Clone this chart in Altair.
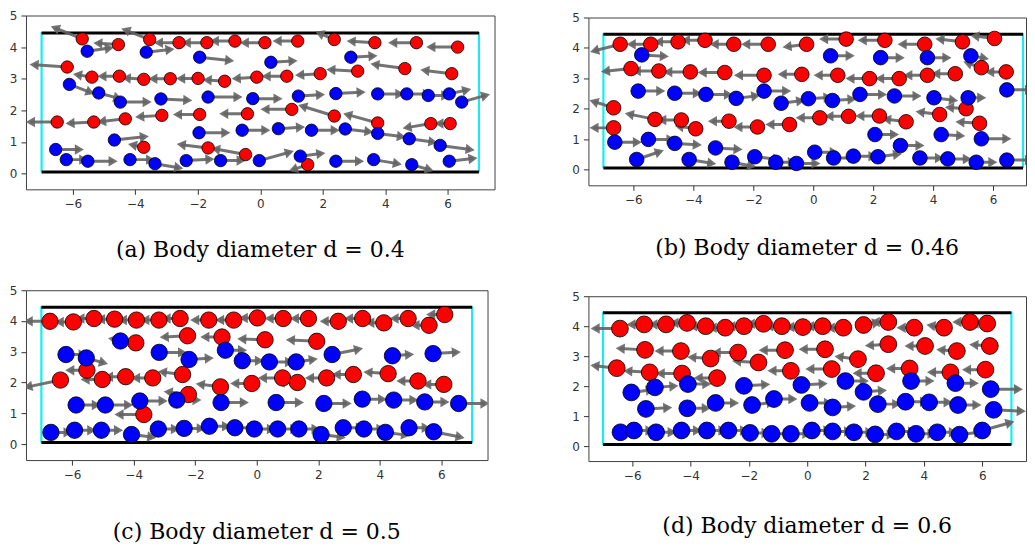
import math
import pandas as pd
import altair as alt

# ---------------- data (x, y, u, v) ----------------
X_TICKS = [-6, -4, -2, 0, 2, 4, 6]
Y_TICKS = [0, 1, 2, 3, 4, 5]
WALL_Y = [0.05, 4.45]
WALL_X = [-7.0, 7.0]
INLET_Y = [0.04, 4.48]

CAPTIONS = ["(a) Body diameter d = 0.4", "(b) Body diameter d = 0.46",
            "(c) Body diameter d = 0.5", "(d) Body diameter d = 0.6"]

A_RED = [(-5.70, 4.26, -1.0, 0.4), (-4.54, 4.08, -0.8, 0.05), (-3.54, 4.24, -0.9, 0.35),
         (-2.60, 4.14, -0.8, 0.0), (-1.71, 4.14, -0.8, 0.0), (-0.81, 4.19, -0.8, 0.0),
         (0.15, 4.14, -0.8, 0.0), (1.20, 4.19, -0.8, 0.0), (2.37, 4.24, -0.6, 0.25),
         (3.67, 4.14, -0.9, 0.05), (5.00, 4.14, -0.9, 0.0), (6.32, 4.00, -1.0, 0.0),
         (-6.18, 3.37, -1.2, 0.08), (-5.39, 3.05, -0.6, 0.1), (-4.51, 3.08, -0.7, 0.0),
         (-3.73, 2.98, -0.7, 0.05), (-2.88, 3.00, -0.7, 0.0), (-1.99, 3.01, -0.7, 0.0),
         (-1.14, 2.92, -0.7, 0.05), (-0.11, 3.05, -0.8, -0.05), (0.85, 3.08, -0.8, 0.0),
         (1.92, 3.16, -0.8, -0.05), (3.12, 3.24, -1.0, 0.05), (4.63, 3.32, -1.1, 0.15),
         (6.13, 3.16, -1.0, 0.12), (-6.50, 1.63, -1.0, 0.0), (-5.33, 1.63, -0.9, -0.05),
         (-4.32, 1.73, -0.9, -0.1), (-3.15, 1.84, -0.85, -0.05), (-1.94, 1.87, -0.85, 0.0),
         (-0.41, 1.89, -0.9, 0.0), (1.01, 2.03, -1.0, 0.0), (2.37, 1.82, -1.15, 0.35),
         (3.76, 1.60, -1.1, 0.3), (5.46, 1.58, -0.9, -0.15), (6.08, 1.58, -0.5, 0.0),
         (-3.73, 0.83, -0.5, 0.1), (-1.67, 0.81, -1.0, 0.12), (-0.47, 0.60, -1.1, 0.2),
         (1.52, 0.28, -0.6, -0.2)]
A_BLUE = [(-5.54, 3.87, 0.85, 0.12), (-3.65, 3.84, 0.9, 0.1), (-1.94, 3.68, 1.1, -0.12),
          (0.34, 3.52, 0.85, 0.05), (2.90, 3.68, 0.85, 0.05), (-6.11, 2.82, 0.8, -0.3),
          (-5.17, 2.55, 0.75, -0.2), (-4.48, 2.26, 1.0, 0.0), (-3.18, 2.36, 1.0, -0.05),
          (-1.67, 2.42, 1.1, 0.0), (-0.24, 2.37, 0.95, 0.0), (1.22, 2.45, 0.85, 0.05),
          (2.42, 2.53, 0.95, 0.05), (3.76, 2.52, 0.85, 0.0), (4.69, 2.52, 0.8, 0.0),
          (5.38, 2.47, 0.7, 0.0), (6.05, 2.52, 0.7, 0.15), (6.45, 2.26, 0.9, 0.25),
          (-1.96, 1.29, 1.0, 0.0), (-0.58, 1.37, 0.9, 0.0), (0.58, 1.42, 0.85, 0.05),
          (1.64, 1.37, 0.9, 0.0), (2.72, 1.41, 0.9, -0.1), (3.76, 1.27, 0.9, -0.12),
          (4.77, 1.10, 0.9, -0.12), (5.76, 0.89, 1.1, -0.15), (-4.67, 1.06, 1.1, 0.12),
          (1.28, 0.55, 0.8, 0.1), (-0.03, 0.41, 1.1, 0.3), (2.42, 0.39, 0.9, 0.0),
          (3.63, 0.44, 0.9, -0.15), (4.85, 0.28, 0.7, -0.2), (6.05, 0.39, 0.9, 0.1),
          (-6.55, 0.76, 0.9, 0.0), (-6.21, 0.44, 0.7, 0.0), (-5.52, 0.39, 0.95, 0.0),
          (-4.17, 0.44, 0.8, 0.0), (-3.37, 0.31, 0.9, -0.15), (-2.37, 0.41, 0.9, 0.05),
          (-1.27, 0.41, 0.8, 0.0)]

B_RED = [(-6.44, 4.12, -1.0, -0.25), (-5.42, 4.12, -0.8, 0.0), (-4.51, 4.20, -0.8, 0.0),
         (-3.61, 4.25, -0.8, 0.0), (-2.65, 4.12, -0.8, 0.0), (-1.50, 4.12, -0.9, 0.0),
         (-0.22, 4.12, -0.8, -0.1), (1.10, 4.29, -0.9, 0.0), (2.39, 4.25, -0.9, 0.0),
         (3.72, 4.12, -0.9, 0.0), (4.98, 4.20, -0.9, 0.1), (6.05, 4.31, -0.8, 0.1),
         (-6.08, 3.32, -1.0, -0.1), (-5.15, 3.24, -0.9, 0.0), (-4.10, 3.21, -0.9, 0.0),
         (-2.95, 3.19, -0.9, 0.0), (-1.64, 3.10, -1.0, 0.0), (-0.38, 3.13, -0.8, 0.0),
         (0.82, 3.10, -0.8, 0.0), (1.88, 2.99, -0.8, 0.0), (2.87, 2.99, -0.8, 0.0),
         (3.81, 3.10, -0.8, 0.0), (4.74, 3.15, -0.8, 0.0), (5.61, 3.35, -0.6, 0.2),
         (6.44, 3.21, -0.7, 0.0), (-6.66, 2.03, -0.8, 0.25), (-6.66, 1.37, -0.8, 0.0),
         (-5.28, 1.65, -1.0, 0.2), (-4.40, 1.63, -0.8, 0.0), (-3.92, 1.34, -0.7, 0.1),
         (-2.81, 1.59, -0.7, 0.0), (-1.86, 1.40, -0.8, 0.0), (-0.79, 1.48, -0.8, 0.0),
         (0.22, 1.70, -0.8, 0.0), (1.18, 1.75, -0.8, 0.0), (2.21, 1.76, -0.8, 0.0),
         (3.10, 1.57, -0.8, 0.1), (4.22, 1.81, -0.8, 0.1), (5.10, 2.00, -0.7, 0.05),
         (5.55, 1.52, -0.8, 0.05)]
B_BLUE = [(-5.72, 3.77, 0.9, -0.05), (0.58, 3.74, 0.8, 0.0), (2.25, 3.68, 0.8, 0.0),
          (3.81, 3.68, 0.8, 0.0), (5.26, 3.74, 0.6, -0.1), (-5.84, 2.58, 0.9, 0.0),
          (-4.62, 2.51, 0.9, 0.0), (-3.58, 2.47, 0.9, 0.0), (-2.57, 2.34, 0.8, 0.1),
          (-1.64, 2.58, 0.9, 0.0), (-1.07, 2.18, 0.8, 0.1), (-0.16, 2.33, 0.8, 0.05),
          (0.64, 2.27, 0.8, 0.05), (1.56, 2.47, 0.9, 0.0), (2.71, 2.42, 0.9, 0.0),
          (4.03, 2.36, 0.8, -0.1), (5.17, 2.36, 0.6, 0.0), (6.46, 2.62, 0.9, 0.0),
          (-6.62, 0.90, 0.9, 0.0), (-5.50, 0.99, 0.9, 0.0), (-4.62, 0.86, 0.9, -0.05),
          (-3.26, 0.71, 0.9, -0.05), (-1.95, 0.42, 0.9, -0.1), (-1.25, 0.24, 0.7, 0.0),
          (-0.56, 0.20, 0.8, 0.0), (-5.89, 0.33, 0.9, 0.3), (-4.14, 0.33, 0.9, -0.15),
          (-2.71, 0.24, 0.8, -0.15), (0.05, 0.57, 0.8, 0.0), (0.68, 0.38, 0.8, 0.0),
          (1.34, 0.44, 0.8, 0.0), (2.16, 0.42, 0.8, 0.1), (2.91, 0.79, 0.8, 0.0),
          (2.06, 1.15, 0.8, 0.0), (4.27, 1.15, 0.8, -0.05), (5.61, 1.01, 1.0, 0.0),
          (3.56, 0.38, 0.8, 0.0), (4.49, 0.35, 0.8, 0.0), (5.44, 0.24, 0.7, 0.0),
          (6.46, 0.31, 0.9, 0.0)]

C_RED = [(-6.72, 3.99, -0.85, 0.0), (-5.96, 3.97, -0.6, 0.0), (-5.29, 4.08, -0.6, 0.0),
         (-4.62, 4.06, -0.6, 0.0), (-3.91, 4.03, -0.6, 0.0), (-3.18, 4.03, -0.6, 0.0),
         (-2.49, 4.08, -0.6, 0.0), (-1.56, 4.03, -0.6, 0.0), (-0.75, 4.03, -0.6, 0.0),
         (0.02, 4.10, -0.6, 0.0), (0.86, 4.08, -0.6, 0.0), (1.68, 4.08, -0.6, 0.0),
         (2.65, 3.99, -0.6, 0.0), (3.44, 4.08, -0.6, 0.0), (4.13, 3.94, -0.6, 0.0),
         (4.92, 4.08, -0.6, 0.0), (5.60, 3.86, -0.6, 0.0), (6.11, 4.21, -0.6, 0.0),
         (-3.93, 3.29, -0.9, 0.15), (-2.25, 3.52, -0.9, -0.05), (-1.13, 3.48, -0.7, 0.0),
         (0.27, 3.39, -0.9, 0.03), (1.95, 3.34, -1.0, 0.05), (-6.38, 2.08, -1.2, -0.25),
         (-5.52, 2.40, -0.7, 0.0), (-5.02, 2.10, -0.7, 0.0), (-4.26, 2.19, -0.7, 0.0),
         (-3.38, 2.15, -0.7, 0.0), (-2.41, 2.26, -0.8, 0.1), (-2.22, 1.61, -0.8, 0.1),
         (-1.18, 1.86, -0.8, 0.1), (-0.16, 1.97, -0.7, 0.0), (0.84, 2.15, -0.8, 0.0),
         (1.32, 2.00, -0.7, 0.0), (2.27, 2.15, -0.7, 0.0), (3.14, 2.26, -0.7, 0.0),
         (4.27, 2.29, -0.8, 0.05), (5.24, 2.05, -0.7, 0.0), (6.08, 1.94, -0.7, 0.0),
         (-3.67, 0.96, -0.95, 0.0)]
C_BLUE = [(-6.20, 2.91, 0.7, 0.0), (-5.54, 2.80, 0.7, -0.2), (-4.43, 3.35, 0.7, 0.0),
          (-3.17, 2.98, 0.9, 0.0), (-2.20, 2.75, 0.8, 0.05), (-1.02, 3.05, 0.7, 0.0),
          (-0.47, 2.71, 0.7, 0.0), (0.41, 2.67, 0.8, 0.0), (1.28, 2.67, 0.7, 0.1),
          (2.45, 2.91, 1.0, 0.2), (4.41, 2.87, 0.7, 0.05), (5.73, 2.94, 0.9, 0.05),
          (-5.87, 1.27, 0.8, 0.0), (-4.92, 1.27, 0.9, 0.0), (-3.80, 1.40, 0.9, 0.0),
          (-2.60, 1.43, 0.8, 0.0), (-1.16, 1.35, 0.9, 0.0), (0.63, 1.35, 0.9, 0.0),
          (2.18, 1.32, 0.9, 0.0), (3.43, 1.46, 0.8, 0.0), (4.45, 1.43, 0.8, 0.0),
          (5.46, 1.37, 0.8, 0.0), (6.56, 1.32, 1.0, 0.0), (-6.69, 0.38, 0.7, 0.0),
          (-5.92, 0.45, 0.7, 0.0), (-5.05, 0.45, 0.7, 0.0), (-4.07, 0.31, 0.8, -0.1),
          (-3.20, 0.49, 0.7, 0.0), (-2.36, 0.51, 0.7, 0.0), (-1.54, 0.58, 0.7, 0.0),
          (-0.71, 0.53, 0.7, 0.0), (-0.08, 0.49, 0.7, 0.0), (0.68, 0.49, 0.7, 0.0),
          (1.37, 0.49, 0.7, 0.0), (2.09, 0.31, 0.8, -0.1), (2.81, 0.53, 0.7, 0.0),
          (3.48, 0.49, 0.7, 0.0), (4.18, 0.38, 0.8, -0.1), (4.95, 0.53, 0.7, 0.0),
          (5.75, 0.40, 1.0, -0.2)]

D_RED = [(-6.42, 3.92, -1.0, 0.0), (-5.59, 4.06, -0.6, 0.0), (-4.84, 4.06, -0.6, 0.0),
         (-4.12, 4.11, -0.6, 0.0), (-3.48, 4.00, -0.6, 0.0), (-2.81, 3.95, -0.6, 0.0),
         (-2.17, 4.00, -0.6, 0.0), (-1.50, 4.08, -0.6, 0.0), (-0.87, 4.00, -0.6, 0.0),
         (-0.15, 3.97, -0.6, 0.0), (0.53, 4.00, -0.6, 0.0), (1.24, 3.95, -0.6, 0.0),
         (1.93, 4.04, 0.6, 0.1), (2.78, 4.14, -0.6, 0.0), (3.67, 3.95, -0.6, 0.0),
         (4.69, 3.95, -0.6, 0.1), (5.58, 4.14, -0.6, 0.0), (6.17, 4.09, -0.6, 0.0),
         (-5.56, 3.21, -1.0, 0.05), (-4.33, 3.17, -0.9, 0.0), (-3.31, 2.92, -0.8, 0.05),
         (-2.37, 3.12, -0.9, 0.0), (-1.67, 2.79, -0.9, 0.05), (-0.76, 3.20, -0.9, 0.0),
         (0.61, 3.23, -0.9, 0.0), (1.74, 2.90, -0.8, 0.1), (2.78, 3.40, -0.8, -0.05),
         (4.04, 3.34, -0.7, 0.0), (5.13, 3.17, -0.7, 0.05), (6.26, 3.34, -0.7, 0.05),
         (-6.53, 2.60, -0.9, 0.1), (-5.40, 2.46, -0.9, 0.05), (-4.29, 2.42, -0.9, 0.0),
         (-3.09, 2.27, -0.8, 0.0), (-0.56, 2.51, -0.8, 0.0), (0.84, 2.57, -0.9, 0.0),
         (2.36, 2.43, -0.8, 0.0), (3.51, 2.59, -0.8, 0.0), (4.91, 2.46, -0.8, 0.0),
         (6.11, 2.55, -0.8, 0.0)]
D_BLUE = [(-6.03, 1.79, 0.8, 0.1), (-5.22, 1.96, 0.8, 0.05), (-4.09, 2.07, 0.8, 0.0),
          (-2.17, 2.01, 0.9, 0.05), (-0.20, 2.04, 0.9, 0.05), (1.31, 2.17, 0.8, 0.0),
          (1.93, 1.81, 0.8, 0.05), (3.56, 2.17, 0.8, 0.0), (5.08, 2.10, 0.8, 0.0),
          (6.29, 1.90, 1.1, 0.0), (-5.53, 1.24, 0.9, 0.05), (-4.11, 1.26, 0.8, 0.0),
          (-3.14, 1.44, 0.8, 0.0), (-1.89, 1.37, 0.8, 0.1), (-1.14, 1.57, 0.8, 0.0),
          (0.08, 1.44, 0.8, 0.0), (0.87, 1.29, 0.8, 0.05), (2.42, 1.40, 0.8, 0.0),
          (3.37, 1.48, 0.8, 0.0), (4.18, 1.46, 0.8, 0.0), (5.17, 1.37, 0.8, 0.0),
          (6.39, 1.21, 1.1, -0.05), (-6.40, 0.46, 0.7, 0.0), (-5.94, 0.52, 0.7, 0.0),
          (-5.18, 0.46, 0.7, 0.0), (-4.31, 0.52, 0.7, 0.0), (-3.44, 0.52, 0.7, 0.0),
          (-2.70, 0.52, 0.7, 0.0), (-1.96, 0.44, 0.7, 0.0), (-1.22, 0.41, 0.7, 0.0),
          (-0.56, 0.41, 0.7, 0.0), (0.16, 0.52, 0.7, 0.0), (0.87, 0.49, 0.7, 0.0),
          (1.60, 0.46, 0.7, 0.0), (2.33, 0.39, 0.7, 0.0), (3.06, 0.49, 0.7, 0.0),
          (3.73, 0.41, 0.7, 0.0), (4.46, 0.46, 0.7, 0.0), (5.22, 0.38, 0.8, 0.1),
          (6.00, 0.52, 1.1, 0.3)]

ARROW = "#646464"
HEAD_HALF = 4.4  # px, half length of the arrow head


def panel(red, blue, caption, w, h, xdom, ydom, diam_px, cap_off):
    sx = w / (xdom[1] - xdom[0])
    sy = h / (ydom[1] - ydom[0])
    pts, shafts, heads = [], [], []
    for kind, lst in (("red", red), ("blue", blue)):
        for x, y, u, v in lst:
            px, py = u * sx, v * sy
            L = math.hypot(px, py)
            ex, ey = px / L, py / L
            hx = x + u - ex * HEAD_HALF / sx
            hy = y + v - ey * HEAD_HALF / sy
            shafts.append({"x": x, "y": y, "x2": hx, "y2": hy})
            heads.append({"x": hx, "y": hy,
                          "ang": math.degrees(math.atan2(-py, px)) % 360})
            pts.append({"x": x, "y": y, "kind": kind})

    xs = alt.Scale(domain=list(xdom), nice=False, zero=False)
    ys = alt.Scale(domain=list(ydom), nice=False, zero=False)
    xax = alt.Axis(values=X_TICKS, title=None, grid=False)
    yax = alt.Axis(values=Y_TICKS, title=None, grid=False)

    def X(f):
        return alt.X(f, type="quantitative", scale=xs, axis=xax)

    def Y(f):
        return alt.Y(f, type="quantitative", scale=ys, axis=yax)

    inlet = alt.Chart(pd.DataFrame({"x": WALL_X, "y": [INLET_Y[0]] * 2,
                                    "y2": [INLET_Y[1]] * 2})).mark_rule(
        color="#18ecf2", strokeWidth=2.2, clip=True).encode(
        x=X("x"), y=Y("y"), y2="y2")
    walls = alt.Chart(pd.DataFrame({"x": [WALL_X[0]] * 2, "x2": [WALL_X[1]] * 2,
                                    "y": WALL_Y})).mark_rule(
        color="black", strokeWidth=3, clip=True).encode(
        x=X("x"), x2="x2", y=Y("y"))
    shaft = alt.Chart(pd.DataFrame(shafts)).mark_rule(
        color=ARROW, strokeWidth=3, opacity=0.9, clip=True).encode(
        x=X("x"), y=Y("y"), x2="x2", y2="y2")
    head = alt.Chart(pd.DataFrame(heads)).mark_point(
        shape="triangle-right", filled=True, size=110, color=ARROW,
        opacity=0.9, clip=True).encode(
        x=X("x"), y=Y("y"), angle=alt.Angle("ang:Q", scale=None))
    circ = alt.Chart(pd.DataFrame(pts)).mark_circle(
        size=math.pi / 4 * diam_px ** 2, stroke="black", strokeWidth=0.8,
        opacity=1, clip=True).encode(
        x=X("x"), y=Y("y"),
        color=alt.Color("kind:N", legend=None,
                        scale=alt.Scale(domain=["red", "blue"],
                                        range=["#ff0000", "#0000ff"])))
    return alt.layer(inlet, walls, shaft, head, circ).properties(
        width=w, height=h,
        title=alt.TitleParams(caption, orient="bottom", anchor="middle",
                              font="DejaVu Serif", fontSize=22,
                              fontWeight="normal", color="black",
                              offset=cap_off))


pa = panel(A_RED, A_BLUE, CAPTIONS[0], 469, 174, (-7.5, 7.5), (-0.5, 5.0), 14, 31)
pb = panel(B_RED, B_BLUE, CAPTIONS[1], 438, 168, (-7.5, 7.1), (-0.52, 5.0), 16.5, 33)
pc = panel(C_RED, C_BLUE, CAPTIONS[2], 462, 170, (-7.5, 7.5), (-0.52, 5.0), 18.5, 42)
pd_ = panel(D_RED, D_BLUE, CAPTIONS[3], 438, 165, (-7.5, 7.5), (-0.5, 5.0), 19, 35)

row1 = alt.hconcat(pa, pb, spacing=75, center=True)
row2 = alt.hconcat(pc, pd_, spacing=82, center=True)

chart = alt.vconcat(row1, row2, spacing=21).properties(
    padding={"left": 0, "top": 0, "right": 0, "bottom": 0}
).configure_view(
    stroke="#404040", strokeWidth=1
).configure_axis(
    domain=False, grid=False, tickColor="#333333", tickSize=5, tickWidth=1,
    labelColor="#333333", labelFontSize=12, labelFont="DejaVu Sans",
    labelPadding=4
)

chart.save("out.html", embed_options={"renderer": "svg", "actions": False})
